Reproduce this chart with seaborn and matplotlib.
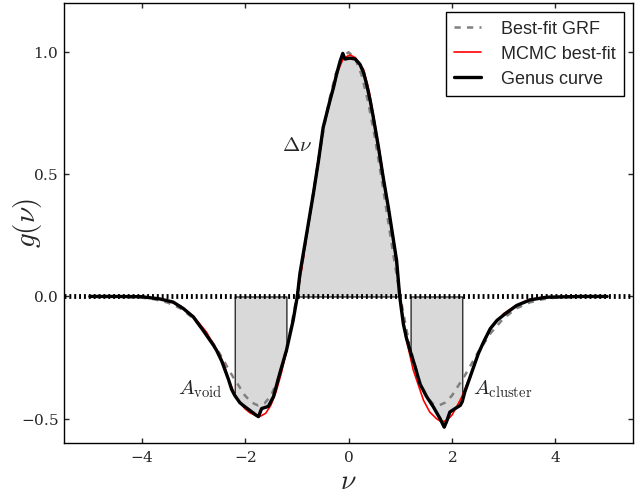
import numpy as np
import matplotlib
matplotlib.use("Agg")
import matplotlib.pyplot as plt
import seaborn as sns

# Measured genus curve g(nu)
genus_nu = [-5.0, -4.5, -4.0, -3.65, -3.39, -3.19, -3.0, -2.81, -2.61, -2.55, -2.45,
            -2.32, -2.26, -2.2, -2.1, -2.0, -1.91, -1.78, -1.74, -1.68, -1.55, -1.45,
            -1.33, -1.2, -1.07, -0.99, -0.94, -0.81, -0.68, -0.58, -0.49, -0.36, -0.29,
            -0.23, -0.16, -0.11, -0.07, 0.03, 0.13, 0.22, 0.29, 0.35, 0.42, 0.48, 0.58,
            0.67, 0.77, 0.87, 0.93, 0.99, 1.06, 1.12, 1.2, 1.29, 1.38, 1.51, 1.64, 1.77,
            1.85, 1.9, 1.96, 2.06, 2.16, 2.2, 2.25, 2.35, 2.51, 2.61, 2.74, 2.87, 3.03,
            3.25, 3.51, 3.83, 4.5, 5.0]
genus_g = [0.0, 0.0, -0.001, -0.01, -0.023, -0.05, -0.084, -0.139, -0.2, -0.221, -0.265,
           -0.34, -0.38, -0.405, -0.435, -0.452, -0.466, -0.487, -0.492, -0.459, -0.45, -0.41,
           -0.316, -0.221, -0.098, 0.0, 0.093, 0.256, 0.42, 0.556, 0.692, 0.801, 0.856,
           0.91, 0.965, 0.995, 0.972, 0.976, 0.972, 0.951, 0.917, 0.869, 0.801, 0.733, 0.61,
           0.488, 0.365, 0.229, 0.147, 0.0, -0.112, -0.17, -0.228, -0.289, -0.357, -0.41,
           -0.452, -0.5, -0.535, -0.51, -0.473, -0.459, -0.446, -0.43, -0.39, -0.33, -0.234,
           -0.187, -0.132, -0.098, -0.071, -0.037, -0.014, -0.003, 0.0, 0.0]

# MCMC best-fit model
mcmc_nu = [-5.0, -4.5, -4.0, -3.75, -3.5, -3.25, -3.0, -2.75, -2.5, -2.4, -2.3, -2.2,
           -2.1, -2.0, -1.9, -1.8, -1.7, -1.6, -1.5, -1.4, -1.3, -1.2, -1.1, -1.0, -0.9,
           -0.75, -0.5, -0.25, -0.1, 0.03, 0.13, 0.29, 0.4, 0.5, 0.6, 0.75, 0.9, 1.0, 1.1,
           1.25, 1.45, 1.57, 1.7, 1.8, 1.9, 2.0, 2.09, 2.19, 2.32, 2.51, 2.75, 3.0, 3.25,
           3.5, 3.75, 4.0, 4.5, 5.0]
mcmc_g = [0.0, -0.001, -0.003, -0.007, -0.017, -0.038, -0.08, -0.145, -0.235, -0.283,
          -0.35, -0.4, -0.435, -0.46, -0.477, -0.487, -0.49, -0.478, -0.445, -0.39, -0.315,
          -0.225, -0.12, -0.01, 0.12, 0.33, 0.68, 0.9, 0.975, 0.989, 0.978, 0.93, 0.84,
          0.72, 0.595, 0.39, 0.18, 0.0, -0.16, -0.3, -0.425, -0.473, -0.5, -0.514, -0.507,
          -0.486, -0.452, -0.411, -0.343, -0.234, -0.13, -0.07, -0.035, -0.012, -0.004,
          -0.001, 0.0, 0.0]

# Best-fit Gaussian random field genus curve
grf_nu = [-5.0, -4.5, -4.0, -3.75, -3.5, -3.25, -3.0, -2.75, -2.5, -2.25, -2.0, -1.875,
          -1.75, -1.625, -1.5, -1.375, -1.25, -1.125, -1.0, -0.875, -0.75, -0.625, -0.5,
          -0.375, -0.25, -0.125, 0.0, 0.125, 0.25, 0.375, 0.5, 0.625, 0.75, 0.875, 1.0,
          1.125, 1.25, 1.375, 1.5, 1.625, 1.75, 1.875, 2.0, 2.25, 2.5, 2.75, 3.0, 3.25,
          3.5, 3.75, 4.0, 4.5, 5.0]
grf_g = [-0.0001, -0.0008, -0.005, -0.0116, -0.0246, -0.0486, -0.0889, -0.1496, -0.2307,
         -0.3232, -0.406, -0.4337, -0.4462, -0.4382, -0.4058, -0.3461, -0.2575, -0.1411,
         0.0, 0.1598, 0.3302, 0.5013, 0.6619, 0.801, 0.9087, 0.9767, 1.0, 0.9767, 0.9087,
         0.801, 0.6619, 0.5013, 0.3302, 0.1598, 0.0, -0.1411, -0.2575, -0.3461, -0.4058,
         -0.4382, -0.4462, -0.4337, -0.406, -0.3232, -0.2307, -0.1496, -0.0889, -0.0486,
         -0.0246, -0.0116, -0.005, -0.0008, -0.0001]

# Shaded intervals
void_range = (-2.2, -1.2)
delta_range = (-0.99, 0.99)
cluster_range = (1.2, 2.2)

series_labels = ["Best-fit GRF", "MCMC best-fit", "Genus curve"]
x_ticks = [-4, -2, 0, 2, 4]
y_ticks = [-0.5, 0.0, 0.5, 1.0]

sns.set_style("ticks")
plt.rcParams.update({
    "mathtext.fontset": "cm",
    "axes.formatter.use_mathtext": True,
    "font.family": ["DejaVu Serif"],
    "axes.linewidth": 1.0,
    "xtick.direction": "in",
    "ytick.direction": "in",
    "xtick.top": True,
    "ytick.right": True,
    "xtick.major.size": 3.5,
    "ytick.major.size": 3.5,
    "xtick.major.width": 1.0,
    "ytick.major.width": 1.0,
    "xtick.labelsize": 11,
    "ytick.labelsize": 11,
    "axes.edgecolor": "black",
})

fig = plt.figure(figsize=(6.44, 4.94), dpi=100)
ax = fig.add_axes([0.0994, 0.1032, 0.8835, 0.890])

nu = np.array(genus_nu)
g = np.array(genus_g)
eps = 1e-9
for lo, hi in (void_range, delta_range, cluster_range):
    mask = (nu >= lo - eps) & (nu <= hi + eps)
    ax.fill_between(nu, g, 0, where=mask, facecolor="#d9d9d9",
                    edgecolor="black", linewidth=0.8, zorder=1)

ax.axhline(0, color="black", lw=3.5, ls=(0, (0.4, 0.6)), zorder=2)

sns.lineplot(x=grf_nu, y=grf_g, ax=ax, color="#808080", lw=1.8,
             linestyle=(0, (2.5, 2.5)), label=series_labels[0], sort=False,
             estimator=None, zorder=3)
sns.lineplot(x=mcmc_nu, y=mcmc_g, ax=ax, color="red", lw=1.2,
             label=series_labels[1], sort=False, estimator=None, zorder=4)
sns.lineplot(x=genus_nu, y=genus_g, ax=ax, color="black", lw=2.4,
             label=series_labels[2], sort=False, estimator=None, zorder=5)

ax.set_xlim(-5.5, 5.5)
ax.set_ylim(-0.6, 1.2)
ax.set_xticks(x_ticks)
ax.set_yticks(y_ticks)
ax.tick_params(axis="x", pad=5)
ax.tick_params(axis="y", pad=4)

ax.set_xlabel(r"$\nu$", fontsize=20, labelpad=2)
ax.set_ylabel(r"$g(\nu)$", fontsize=21)
ax.yaxis.label.set_verticalalignment("center")
ax.yaxis.set_label_coords(-0.065, 0.5)

ax.text(-1.29, 0.597, r"$\Delta\nu$", fontsize=15, ha="left", va="baseline")
ax.text(-3.3, -0.40, r"$A_{\rm void}$", fontsize=15, ha="left", va="baseline")
ax.text(2.4, -0.40, r"$A_{\rm cluster}$", fontsize=15, ha="left", va="baseline")

leg = ax.legend(loc="upper right", frameon=True, fancybox=False,
                prop={"family": "Liberation Sans", "size": 13},
                handlelength=1.5, handletextpad=1.1, borderpad=0.45,
                labelspacing=0.45, borderaxespad=0.5, framealpha=1)
leg.get_frame().set_edgecolor("black")
leg.get_frame().set_linewidth(1.0)

fig.savefig("out.png", dpi=100)
